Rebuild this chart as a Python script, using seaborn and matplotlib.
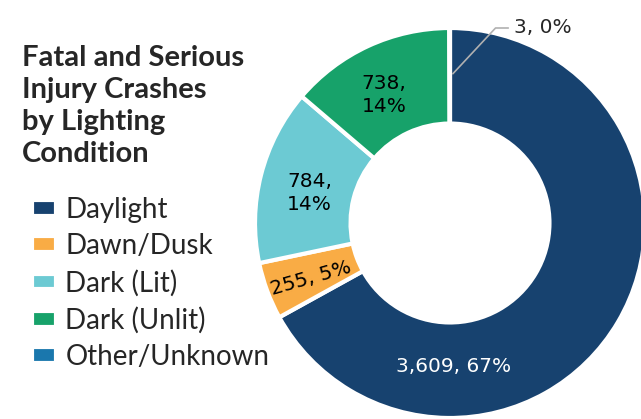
import matplotlib
matplotlib.use("Agg")
import matplotlib.pyplot as plt
import seaborn as sns

# data
conditions = ["Daylight", "Dawn/Dusk", "Dark (Lit)", "Dark (Unlit)", "Other/Unknown"]
crashes = [3609, 255, 784, 738, 3]
shares = ["67%", "5%", "14%", "14%", "0%"]
palette = ["#17426f", "#f9ac45", "#6ccad3", "#17a26a", "#1a77ad"]

sns.set_theme(style="white")
plt.rcParams["font.family"] = ["Lato", "DejaVu Sans"]

fig = plt.figure(figsize=(6.41, 4.19), dpi=100)
W, H = 641, 419
cx, cy, r = 450, 223, 195
ax = fig.add_axes([(cx - r) / W, (H - cy - r) / H, 2 * r / W, 2 * r / H])

wedges, _ = ax.pie(crashes, colors=sns.color_palette(palette), startangle=90,
                   counterclock=False, radius=1,
                   wedgeprops=dict(width=0.49, edgecolor="white", linewidth=3))
ax.set_xlim(-1, 1)
ax.set_ylim(-1, 1)
ax.axis("off")

lab = [f"{c:,}, {s}" for c, s in zip(crashes, shares)]
lf = dict(family="DejaVu Sans", fontsize=14.5, ha="center", va="center")
ax.text(0.018, -0.738, lab[0], color="white", **lf)
ax.text(-0.713, -0.282, lab[1], color="black", rotation=16, **lf)
ax.text(-0.72, 0.155, f"{crashes[2]:,},\n{shares[2]}", color="black", linespacing=1.25, **lf)
ax.text(-0.338, 0.656, f"{crashes[3]:,},\n{shares[3]}", color="black", linespacing=1.25, **lf)
ax.annotate(lab[4], xy=(0.005, 0.755), xytext=(0.33, 1.0),
            textcoords="data", annotation_clip=False,
            family="DejaVu Sans", fontsize=14.5, ha="left", va="center",
            arrowprops=dict(arrowstyle="-", color="#b0b0b0", lw=1.2,
                            connectionstyle="angle,angleA=0,angleB=47,rad=0"))

fig.text(22 / W, 1 - 45 / H, "Fatal and Serious\nInjury Crashes\nby Lighting\nCondition",
         fontsize=21, fontweight="bold", ha="left", va="top", linespacing=1.28)

fig.legend(wedges, conditions, loc="upper left", bbox_to_anchor=(32 / W, 1 - 197 / H),
           frameon=False, fontsize=20, handlelength=0.85, handleheight=0.5,
           handletextpad=0.35, labelspacing=0.37, borderpad=0, borderaxespad=0)

fig.savefig("out.png", dpi=100)
